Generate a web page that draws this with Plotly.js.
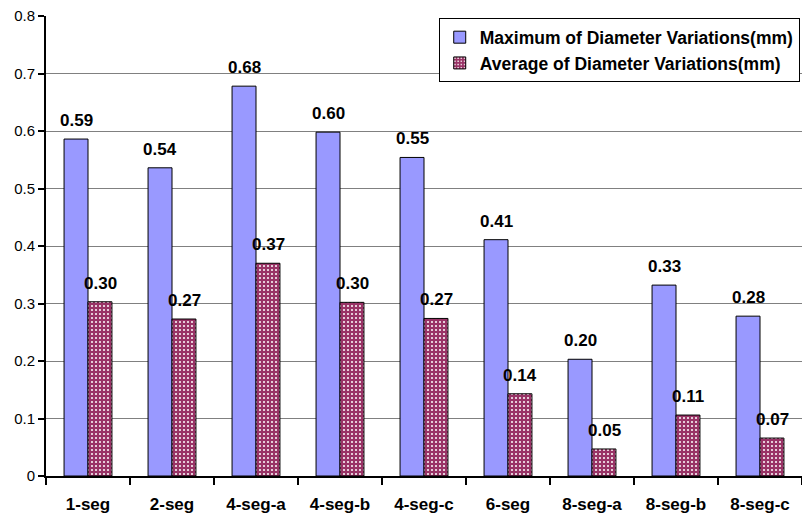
<!DOCTYPE html>
<html>
<head>
<meta charset="utf-8">
<script src="https://cdn.plot.ly/plotly-3.0.1.min.js"></script>
<style>html,body{margin:0;padding:0;background:#fff;}#chart{width:802px;height:518px;}</style>
</head>
<body>
<div id="chart"></div>
<script>
const categories = ["1-seg","2-seg","4-seg-a","4-seg-b","4-seg-c","6-seg","8-seg-a","8-seg-b","8-seg-c"];
const maxValues = [0.586, 0.536, 0.678, 0.598, 0.554, 0.411, 0.203, 0.332, 0.278];
const avgValues = [0.303, 0.273, 0.370, 0.302, 0.274, 0.143, 0.047, 0.106, 0.066];
const seriesNames = ["Maximum of Diameter Variations(mm)", "Average of Diameter Variations(mm)"];
const yTicks = [0, 0.1, 0.2, 0.3, 0.4, 0.5, 0.6, 0.7, 0.8];

const FONT = "Liberation Sans, Arial, sans-serif";
const labelFont = {family: FONT, size: 17, color: "#000", weight: "bold"};

const traces = [
  {
    type: "bar", name: seriesNames[0], x: categories, y: maxValues,
    marker: {color: "#9999FF", line: {color: "#000", width: 1}},
    hoverinfo: "skip"
  },
  {
    type: "bar", name: seriesNames[1], x: categories, y: avgValues,
    marker: {color: "#993366", line: {color: "#000", width: 1},
      pattern: {shape: ".", fgcolor: "#ffffff", bgcolor: "#993366", size: 4, solidity: 0.2, fillmode: "replace"}},
    hoverinfo: "skip"
  }
];

// value labels placed through the axis scales, nudged above each bar
const annotations = [];
[maxValues, avgValues].forEach((vals, s) => {
  vals.forEach((v, i) => {
    annotations.push({
      x: categories[i], y: v, xref: "x", yref: "y",
      text: v.toFixed(2), showarrow: false,
      xshift: s === 0 ? -12 : 12, yshift: 7, yanchor: "bottom",
      font: labelFont
    });
  });
});

const layout = {
  width: 802, height: 518,
  margin: {l: 46, r: 0, t: 16, b: 42},
  paper_bgcolor: "#fff", plot_bgcolor: "#fff",
  barmode: "group", bargap: 0.43, bargroupgap: 0,
  font: {family: FONT, size: 15, color: "#000"},
  xaxis: {
    type: "category", tickson: "boundaries", ticks: "outside", ticklen: 7, tickwidth: 2, tickcolor: "#000",
    showline: true, linecolor: "#000", linewidth: 2, showgrid: false,
    ticklabelstandoff: 12,
    tickfont: {family: FONT, size: 17, color: "#000", weight: "bold"}, automargin: false
  },
  yaxis: {
    range: [0, 0.8], tickvals: yTicks, ticktext: yTicks.map(v => v === 0 ? "0" : v.toFixed(1)),
    ticks: "outside", ticklen: 6, tickwidth: 2, tickcolor: "#000",
    showline: true, linecolor: "#000", linewidth: 2,
    showgrid: true, gridcolor: "#808080", gridwidth: 1, zeroline: false,
    tickfont: {family: FONT, size: 15, color: "#000"}, automargin: false
  },
  legend: {
    x: 0.997, xanchor: "right", y: 0.995, yanchor: "top",
    bgcolor: "#fff", bordercolor: "#000", borderwidth: 1,
    font: {family: FONT, size: 17.5, color: "#000", weight: "bold"},
    itemwidth: 30, tracegroupgap: 0
  },
  annotations: annotations,
  showlegend: true
};

Plotly.newPlot("chart", traces, layout, {displayModeBar: false, staticPlot: true});
</script>
</body>
</html>
